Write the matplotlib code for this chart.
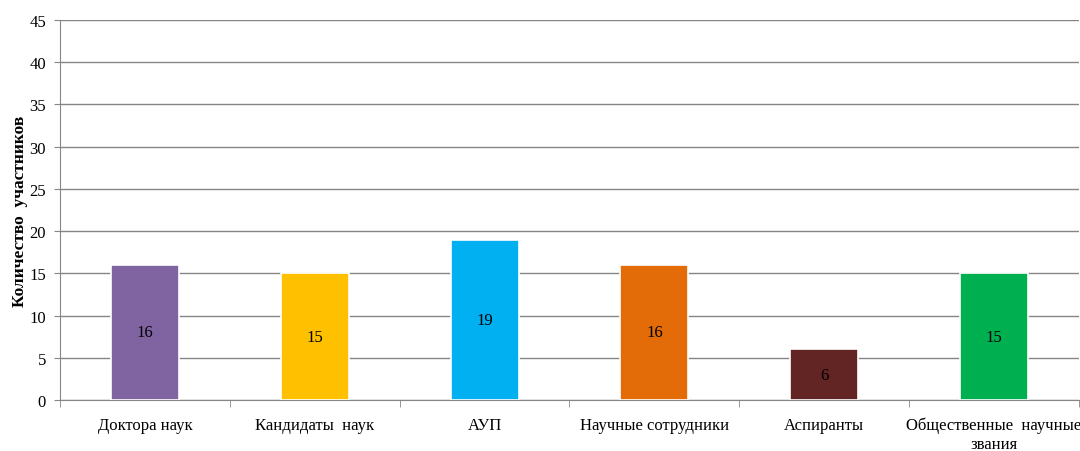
import matplotlib.pyplot as plt
import numpy as np

plt.rcParams['font.family'] = ['Liberation Serif', 'DejaVu Serif']

categories = ["Доктора наук", "Кандидаты  наук", "АУП", "Научные сотрудники",
              "Аспиранты", "Общественные  научные\nзвания"]
values = [16, 15, 19, 16, 6, 15]
colors = ["#8064A2", "#FFC000", "#00B0F0", "#E36C09", "#632523", "#00B050"]

fig = plt.figure(figsize=(10.8, 4.52), dpi=100)
ax = fig.add_axes([60 / 1080, 51 / 452, 1 - 60 / 1080 - 0.001, 380 / 452])

x = np.arange(len(categories))
bars = ax.bar(x, values, width=0.4, color=colors, edgecolor="white", linewidth=1.2, zorder=3)
for xi, v in zip(x, values):
    ax.text(xi, v / 2, str(v), ha="center", va="center", fontsize=12, color="black", zorder=4)

ax.set_xlim(-0.5, len(categories) - 0.5)
ax.set_ylim(0, 45)
ax.set_yticks(range(0, 46, 5))
ax.tick_params(axis="y", labelsize=12, length=4, color="#868686", pad=6)
ax.yaxis.grid(True, color="#868686", linewidth=1, zorder=0)

ax.set_xticks(x)
ax.set_xticklabels(categories, fontsize=12, linespacing=1.25)
ax.tick_params(axis="x", length=0, pad=12)
ax.set_xticks(np.arange(-0.5, len(categories)), minor=True)
ax.tick_params(axis="x", which="minor", length=5, color="#868686")

for s in ["top", "right"]:
    ax.spines[s].set_visible(False)
for s in ["left", "bottom"]:
    ax.spines[s].set_color("#868686")

ax.set_ylabel("Количество  участников", fontsize=12.5, fontweight="bold", labelpad=1)

fig.savefig("out.png", dpi=100)
